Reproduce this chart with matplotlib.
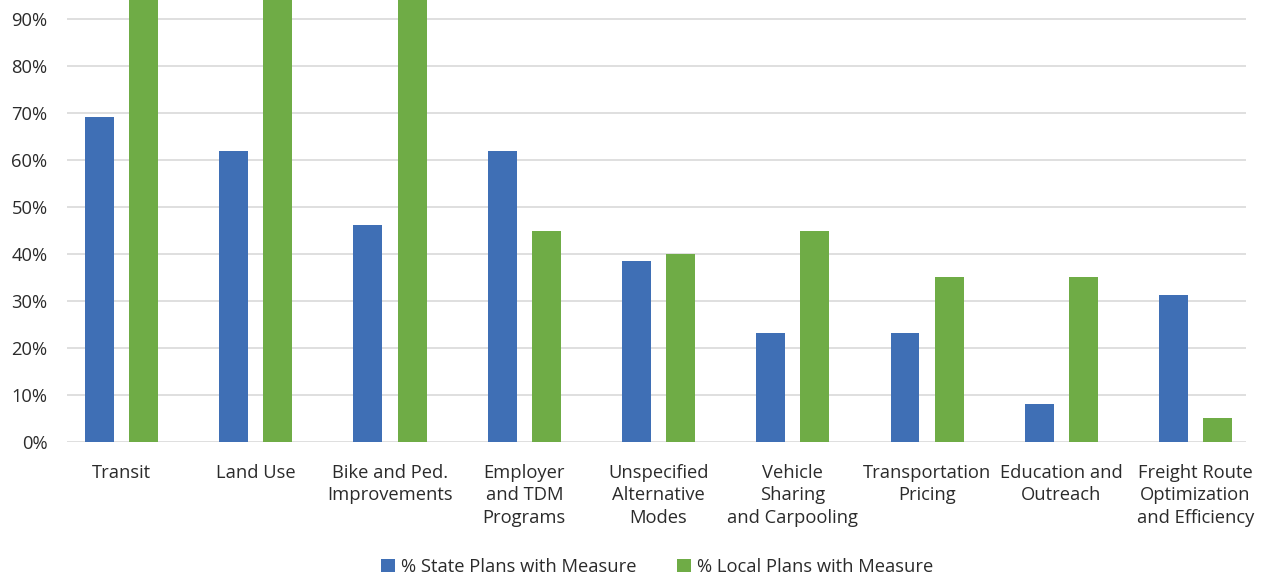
import numpy as np
import matplotlib.pyplot as plt
from matplotlib.ticker import PercentFormatter

plt.rcParams['font.family'] = ['Open Sans', 'DejaVu Sans']

categories = ['Transit', 'Land Use', 'Bike and Ped.\nImprovements', 'Employer\nand TDM\nPrograms',
              'Unspecified\nAlternative\nModes', 'Vehicle\nSharing\nand Carpooling',
              'Transportation\nPricing', 'Education and\nOutreach',
              'Freight Route\nOptimization\nand Efficiency']
state = [69.2, 61.9, 46.2, 61.9, 38.5, 23.1, 23.1, 8.0, 31.3]
local = [97, 97, 97, 44.8, 40.0, 44.8, 35.0, 35.0, 5.1]

blue = '#3f6fb5'
green = '#6fac46'
text_col = '#2b2b2b'

fig = plt.figure(figsize=(12.71, 5.77), dpi=100)
ax = fig.add_axes([67 / 1271, 1 - 442 / 577, (1246 - 67) / 1271, 442 / 577])

x = np.arange(len(categories))
w = 0.216
ax.bar(x - 0.164, state, w, color=blue, label='% State Plans with Measure', zorder=3)
ax.bar(x + 0.164, local, w, color=green, label='% Local Plans with Measure', zorder=3)

ax.set_xlim(-0.406, 8.376)
ax.set_ylim(0, 94.04)
ax.set_yticks(np.arange(0, 91, 10))
ax.yaxis.set_major_formatter(PercentFormatter(decimals=0))
ax.grid(axis='y', color='#d9d9d9', linewidth=1.2, zorder=0)
for s in ax.spines.values():
    s.set_visible(False)
ax.tick_params(length=0, labelsize=13.2, colors=text_col)
ax.set_xticks(x)
ax.set_xticklabels(categories, linespacing=1.35)
ax.tick_params(axis='x', pad=15.5)
ax.tick_params(axis='y', pad=14)

fig.legend(loc='center', bbox_to_anchor=(657 / 1271, 1 - 567 / 577), ncol=2, frameon=False,
           fontsize=13.2, handlelength=0.75, handleheight=0.75, handletextpad=0.35,
           columnspacing=2.2, labelcolor=text_col)

fig.savefig('out.png', dpi=100)
